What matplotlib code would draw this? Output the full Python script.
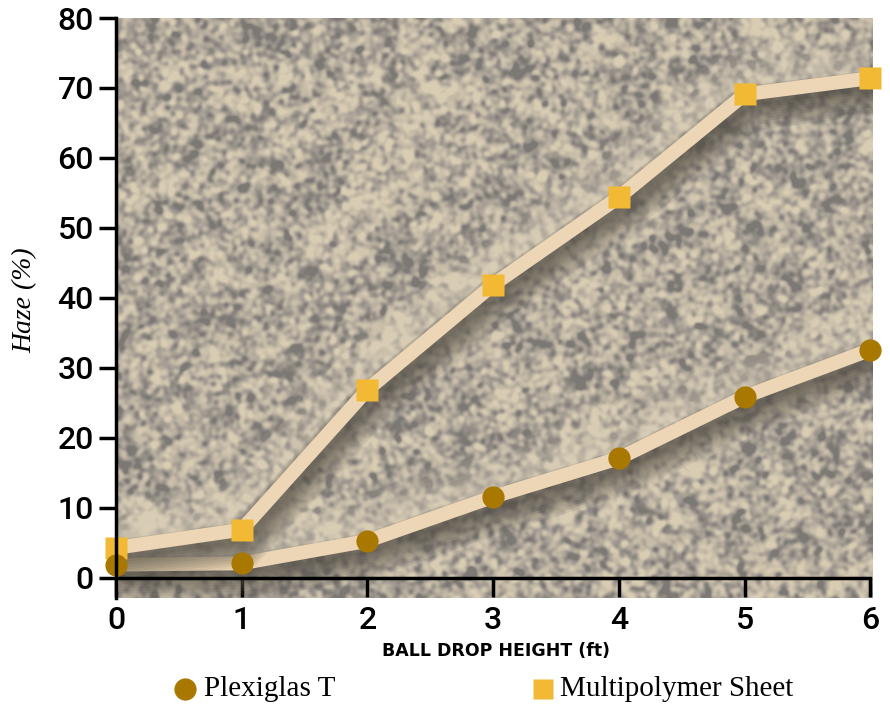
import numpy as np
import matplotlib.pyplot as plt
import matplotlib.patheffects as pe
from matplotlib.colors import LinearSegmentedColormap

heights = [0, 1, 2, 3, 4, 5, 6]
plexiglas = [1.9, 2.1, 5.3, 11.6, 17.1, 25.9, 32.6]
multipolymer = [4.3, 6.9, 26.9, 41.9, 54.4, 69.1, 71.4]
yticks = [0, 10, 20, 30, 40, 50, 60, 70, 80]
series_names = ["Plexiglas T", "Multipolymer Sheet"]

circle_col = "#a87800"
square_col = "#f2b935"
band_col = "#ecd6b5"

fig = plt.figure(figsize=(8.9, 7.06), dpi=100)
ax = fig.add_axes([116/890, 1-598/706, (873-116)/890, (598-18)/706])

# granite-like background texture (decoration only)
rng = np.random.default_rng(7)
noise = rng.standard_normal((580, 757))
fy = np.fft.fftfreq(noise.shape[0])[:, None]
fx = np.fft.fftfreq(noise.shape[1])[None, :]
fine = np.real(np.fft.ifft2(np.fft.fft2(noise) * np.exp(-(fx**2 + fy**2) / (2 * 0.07**2))))
coarse = np.real(np.fft.ifft2(np.fft.fft2(noise) * np.exp(-(fx**2 + fy**2) / (2 * 0.015**2))))
fine = (fine - fine.mean()) / fine.std()
coarse = (coarse - coarse.mean()) / coarse.std()
tex = fine + 0.25 * coarse
granite = LinearSegmentedColormap.from_list("granite", ["#7c7873", "#a09990", "#c2b8a5", "#d8ccb3"])
ax.imshow(tex, cmap=granite, vmin=-2.1, vmax=2.1, extent=[0, 6.02, -2.86, 80],
          aspect="auto", zorder=0, interpolation="bilinear")

effects = []
for k in range(8):
    effects.append(pe.Stroke(offset=(0, 3 + k * 0.5), linewidth=16 + k * 6,
                             foreground="#e4d9c2", alpha=0.07))
for k in range(10):
    effects.append(pe.Stroke(offset=(2, -4 - k * 0.7), linewidth=10 + k * 2.5,
                             foreground="#2f2b27", alpha=0.08))
effects.append(pe.Normal())
for ys in (plexiglas, multipolymer):
    ax.plot(heights, ys, color=band_col, lw=10, solid_joinstyle="miter",
            solid_capstyle="butt", zorder=2, path_effects=effects)

ax.plot(heights, plexiglas, "o", color=circle_col, ms=16, mec="none", zorder=4, clip_on=False)
ax.plot(heights, multipolymer, "s", color=square_col, ms=16, mec="none", zorder=3, clip_on=False)

ax.set_xlim(0, 6.02)
ax.set_ylim(-2.86, 80)
ax.spines["top"].set_visible(False)
ax.spines["right"].set_visible(False)
ax.spines["bottom"].set_position(("data", 0))
ax.spines["bottom"].set_bounds(0, 6)
for s in ("left", "bottom"):
    ax.spines[s].set_linewidth(2.5)
    ax.spines[s].set_zorder(5)
ax.set_xticks(heights)
ax.set_yticks(yticks)
ax.tick_params(axis="y", length=12, width=2.5, direction="out", pad=4)
ax.tick_params(axis="x", length=14, width=2.5, direction="out", pad=6)
tick_font = {"family": "Roboto", "weight": "medium", "size": 23}
ax.set_xticklabels([str(h) for h in heights], **tick_font)
ax.set_yticklabels([str(t) for t in yticks], **tick_font)

fig.text(496/890, 1-651/706, "BALL DROP HEIGHT (ft)", ha="center", va="center",
         fontsize=12.5, fontweight="heavy", family="DejaVu Sans")
fig.text(25/890, 1-300/706, "Haze (%)", ha="center", va="center", rotation=90,
         fontsize=20, style="italic", family="Liberation Serif")

# legend drawn on an overlay in pixel coordinates
lg = fig.add_axes([0, 0, 1, 1], zorder=10)
lg.set_xlim(0, 890)
lg.set_ylim(706, 0)
lg.axis("off")
lg.plot([185], [689], "o", ms=16, color=circle_col, mec="none")
lg.plot([543], [689], "s", ms=14, color=square_col, mec="none")
lg.text(204, 689, series_names[0], va="center", ha="left", fontsize=21, family="Liberation Serif")
lg.text(560, 689, series_names[1], va="center", ha="left", fontsize=21, family="Liberation Serif")

fig.savefig("out.png", dpi=100)
